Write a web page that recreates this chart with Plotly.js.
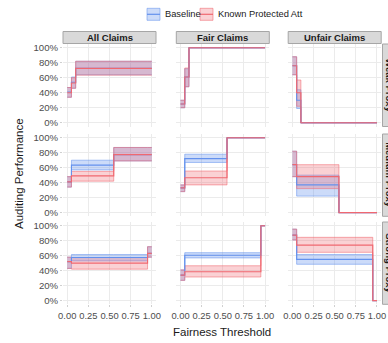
<!DOCTYPE html>
<html>
<head>
<meta charset="utf-8">
<script src="https://cdn.plot.ly/plotly-3.0.1.min.js"></script>
<style>html,body{margin:0;padding:0;background:#fff;}#chart{width:388px;height:343px;}</style>
</head>
<body>
<div id="chart"></div>
<script>
// ---------- DATA ----------
const thresholds = [0, 0.05, 0.10, 0.55, 0.95, 1.00];
const claimTypes = ['All Claims', 'Fair Claims', 'Unfair Claims'];
const proxyLevels = ['Weak Proxy', 'Medium Proxy', 'Strong Proxy'];
const seriesNames = ['Baseline', 'Known Protected Att'];
const xTickVals = [0, 0.25, 0.5, 0.75, 1];
const xTickText = ['0.00', '0.25', '0.50', '0.75', '1.00'];
const yTickVals = [0, 0.2, 0.4, 0.6, 0.8, 1];
const yTickText = ['0%', '20%', '40%', '60%', '80%', '100%'];

// panels in order: Weak(All, Fair, Unfair), Medium(All, Fair, Unfair), Strong(All, Fair, Unfair)
const baselineMean = [
  [0.41, 0.54, 0.725, 0.725, 0.725, 0.725],
  [0.25, 0.61, 1.00, 1.00, 1.00, 1.00],
  [0.76, 0.30, 0.00, 0.00, 0.00, 0.00],
  [0.41, 0.635, 0.635, 0.775, 0.775, 0.775],
  [0.33, 0.72, 0.72, 1.00, 1.00, 1.00],
  [0.64, 0.37, 0.37, 0.00, 0.00, 0.00],
  [0.52, 0.575, 0.575, 0.575, 0.63, 0.63],
  [0.34, 0.605, 0.605, 0.605, 1.00, 1.00],
  [0.875, 0.55, 0.55, 0.55, 0.00, 0.00]
];
const baselineLow = [
  [0.34, 0.46, 0.64, 0.64, 0.64, 0.64],
  [0.20, 0.48, 1.00, 1.00, 1.00, 1.00],
  [0.64, 0.19, 0.00, 0.00, 0.00, 0.00],
  [0.34, 0.57, 0.57, 0.69, 0.69, 0.69],
  [0.28, 0.67, 0.67, 1.00, 1.00, 1.00],
  [0.48, 0.22, 0.22, 0.00, 0.00, 0.00],
  [0.43, 0.53, 0.53, 0.53, 0.58, 0.58],
  [0.27, 0.57, 0.57, 0.57, 1.00, 1.00],
  [0.81, 0.485, 0.485, 0.485, 0.00, 0.00]
];
const baselineHigh = [
  [0.47, 0.61, 0.82, 0.82, 0.82, 0.82],
  [0.30, 0.72, 1.00, 1.00, 1.00, 1.00],
  [0.88, 0.44, 0.00, 0.00, 0.00, 0.00],
  [0.48, 0.70, 0.70, 0.87, 0.87, 0.87],
  [0.37, 0.78, 0.78, 1.00, 1.00, 1.00],
  [0.82, 0.50, 0.50, 0.00, 0.00, 0.00],
  [0.58, 0.615, 0.615, 0.615, 0.72, 0.72],
  [0.41, 0.64, 0.64, 0.64, 1.00, 1.00],
  [0.955, 0.615, 0.615, 0.615, 0.00, 0.00]
];
const knownMean = [
  [0.40, 0.53, 0.725, 0.725, 0.725, 0.725],
  [0.25, 0.61, 1.00, 1.00, 1.00, 1.00],
  [0.76, 0.40, 0.00, 0.00, 0.00, 0.00],
  [0.41, 0.49, 0.49, 0.775, 0.775, 0.775],
  [0.33, 0.465, 0.465, 1.00, 1.00, 1.00],
  [0.64, 0.48, 0.48, 0.00, 0.00, 0.00],
  [0.52, 0.50, 0.50, 0.50, 0.63, 0.63],
  [0.34, 0.385, 0.385, 0.385, 1.00, 1.00],
  [0.875, 0.74, 0.74, 0.74, 0.00, 0.00]
];
const knownLow = [
  [0.34, 0.46, 0.635, 0.635, 0.635, 0.635],
  [0.20, 0.48, 1.00, 1.00, 1.00, 1.00],
  [0.64, 0.22, 0.00, 0.00, 0.00, 0.00],
  [0.34, 0.42, 0.42, 0.69, 0.69, 0.69],
  [0.28, 0.37, 0.37, 1.00, 1.00, 1.00],
  [0.48, 0.32, 0.32, 0.00, 0.00, 0.00],
  [0.43, 0.42, 0.42, 0.42, 0.58, 0.58],
  [0.27, 0.315, 0.315, 0.315, 1.00, 1.00],
  [0.81, 0.645, 0.645, 0.645, 0.00, 0.00]
];
const knownHigh = [
  [0.47, 0.60, 0.82, 0.82, 0.82, 0.82],
  [0.30, 0.73, 1.00, 1.00, 1.00, 1.00],
  [0.88, 0.57, 0.00, 0.00, 0.00, 0.00],
  [0.48, 0.55, 0.55, 0.87, 0.87, 0.87],
  [0.37, 0.555, 0.555, 1.00, 1.00, 1.00],
  [0.82, 0.64, 0.64, 0.00, 0.00, 0.00],
  [0.58, 0.575, 0.575, 0.575, 0.72, 0.72],
  [0.41, 0.465, 0.465, 0.465, 1.00, 1.00],
  [0.955, 0.845, 0.845, 0.845, 0.00, 0.00]
];

// ---------- STYLE / LAYOUT ----------
const W = 388, H = 343;
const FONT = 'Liberation Sans, Arial, Helvetica, sans-serif';
const colsPx = [[63, 156], [176.3, 269.3], [288.2, 381.2]];
const rowsPx = [[44, 126.5], [134, 216.3], [222, 304.3]];
const px2x = v => v / W;
const px2y = v => 1 - v / H;

const seriesStyle = [
  {line: 'rgb(100,145,237)', edge: 'rgba(100,145,237,0.55)', fill: 'rgba(100,145,237,0.33)'},
  {line: 'rgb(240,104,112)', edge: 'rgba(240,104,112,0.55)', fill: 'rgba(240,104,112,0.30)'}
];
const means = [baselineMean, knownMean];
const lows = [baselineLow, knownLow];
const highs = [baselineHigh, knownHigh];

const traces = [];
const layout = {
  width: W, height: H,
  margin: {l: 0, r: 0, t: 0, b: 0},
  paper_bgcolor: '#ffffff', plot_bgcolor: '#ffffff',
  showlegend: false,
  font: {family: FONT, size: 10, color: '#4d4d4d'},
  shapes: [], annotations: []
};

for (let p = 0; p < 9; p++) {
  const r = Math.floor(p / 3), c = p % 3;
  const suf = p === 0 ? '' : String(p + 1);
  const xa = 'x' + suf, ya = 'y' + suf;
  // ribbons
  for (let s = 0; s < 2; s++) {
    traces.push({x: thresholds, y: lows[s][p], xaxis: xa, yaxis: ya, type: 'scatter', mode: 'lines',
      line: {shape: 'hv', color: seriesStyle[s].edge, width: 1}, hoverinfo: 'skip', showlegend: false});
    traces.push({x: thresholds, y: highs[s][p], xaxis: xa, yaxis: ya, type: 'scatter', mode: 'lines',
      fill: 'tonexty', fillcolor: seriesStyle[s].fill,
      line: {shape: 'hv', color: seriesStyle[s].edge, width: 1}, hoverinfo: 'skip', showlegend: false});
  }
  // mean lines
  for (let s = 0; s < 2; s++) {
    traces.push({x: thresholds, y: means[s][p], xaxis: xa, yaxis: ya, type: 'scatter', mode: 'lines',
      name: seriesNames[s], line: {shape: 'hv', color: seriesStyle[s].line, width: 1.15},
      hoverinfo: 'skip', showlegend: false});
  }
  const bottom = r === 2, left = c === 0;
  layout['xaxis' + suf] = {
    domain: [px2x(colsPx[c][0]), px2x(colsPx[c][1])], anchor: ya,
    range: [-0.05, 1.05], tickvals: xTickVals, ticktext: xTickText, tickangle: 0,
    showgrid: true, gridcolor: '#ebebeb', gridwidth: 1, zeroline: false, showline: false,
    showticklabels: bottom, ticks: bottom ? 'outside' : '', ticklen: 2, tickcolor: '#d0d0d0',
    tickfont: {family: FONT, size: 9.4, color: '#4d4d4d'}, fixedrange: true
  };
  layout['yaxis' + suf] = {
    domain: [px2y(rowsPx[r][1]), px2y(rowsPx[r][0])], anchor: xa,
    range: [-0.05, 1.05], tickvals: yTickVals, ticktext: yTickText,
    showgrid: true, gridcolor: '#ebebeb', gridwidth: 1, zeroline: false, showline: false,
    showticklabels: left, ticks: left ? 'outside' : '', ticklen: 2, tickcolor: '#d0d0d0',
    tickfont: {family: FONT, size: 9.6, color: '#4d4d4d'}, fixedrange: true
  };
}

// top strips (claim types)
claimTypes.forEach((t, c) => {
  layout.shapes.push({type: 'rect', xref: 'paper', yref: 'paper',
    x0: px2x(colsPx[c][0]), x1: px2x(colsPx[c][1]), y0: px2y(43.5), y1: px2y(31.5),
    fillcolor: '#d9d9d9', line: {color: '#a6a6a6', width: 1}});
  layout.annotations.push({xref: 'paper', yref: 'paper', x: px2x((colsPx[c][0] + colsPx[c][1]) / 2), y: px2y(37.7),
    text: '<b>' + t + '</b>', showarrow: false, xanchor: 'center', yanchor: 'middle',
    font: {family: FONT, size: 9.5, color: '#1a1a1a'}});
});
// right strips (proxy levels) - partly outside the canvas, as in the reference
proxyLevels.forEach((t, r) => {
  layout.shapes.push({type: 'rect', xref: 'paper', yref: 'paper',
    x0: px2x(382.5), x1: px2x(398), y0: px2y(rowsPx[r][1]), y1: px2y(rowsPx[r][0]),
    fillcolor: '#d9d9d9', line: {color: '#a6a6a6', width: 1}});
  layout.annotations.push({xref: 'paper', yref: 'paper', x: px2x(390), y: px2y((rowsPx[r][0] + rowsPx[r][1]) / 2),
    text: '<b>' + t + '</b>', showarrow: false, xanchor: 'center', yanchor: 'middle', textangle: 90,
    font: {family: FONT, size: 9.5, color: '#1a1a1a'}});
});

// legend (manual, ggplot style)
const legendKeys = [{x0: 147, x1: 160, tx: 162.5}, {x0: 200, x1: 213, tx: 215.5}];
seriesNames.forEach((n, s) => {
  const k = legendKeys[s];
  layout.shapes.push({type: 'rect', xref: 'paper', yref: 'paper',
    x0: px2x(k.x0), x1: px2x(k.x1), y0: px2y(20.3), y1: px2y(8.3),
    fillcolor: seriesStyle[s].fill, line: {color: seriesStyle[s].edge, width: 1}});
  layout.shapes.push({type: 'line', xref: 'paper', yref: 'paper',
    x0: px2x(k.x0), x1: px2x(k.x1), y0: px2y(14.3), y1: px2y(14.3),
    line: {color: seriesStyle[s].line, width: 1.2}});
  layout.annotations.push({xref: 'paper', yref: 'paper', x: px2x(k.tx), y: px2y(14.3),
    text: n, showarrow: false, xanchor: 'left', yanchor: 'middle',
    font: {family: FONT, size: 9.3, color: '#1a1a1a'}});
});

// axis titles
layout.annotations.push({xref: 'paper', yref: 'paper', x: px2x(222), y: px2y(332),
  text: 'Fairness Threshold', showarrow: false, xanchor: 'center', yanchor: 'middle',
  font: {family: FONT, size: 11.5, color: '#1a1a1a'}});
layout.annotations.push({xref: 'paper', yref: 'paper', x: px2x(19), y: px2y(174),
  text: 'Auditing Performance', showarrow: false, xanchor: 'center', yanchor: 'middle', textangle: -90,
  font: {family: FONT, size: 11.5, color: '#1a1a1a'}});

Plotly.newPlot('chart', traces, layout, {displayModeBar: false, staticPlot: true});
</script>
</body>
</html>
